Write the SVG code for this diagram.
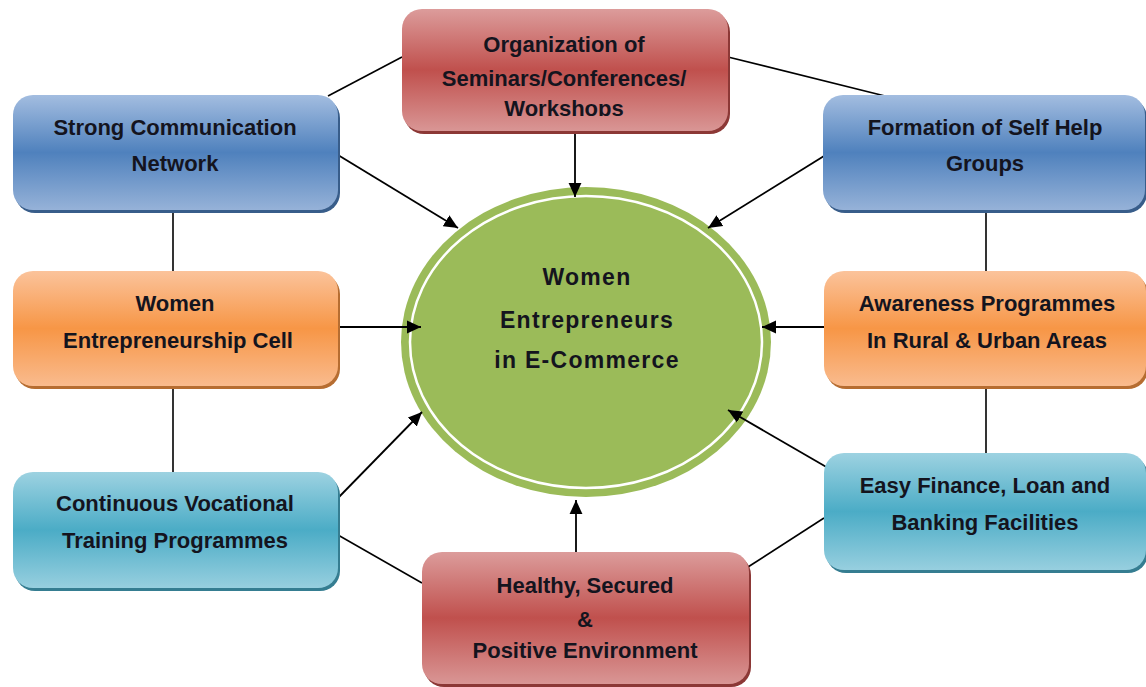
<svg xmlns="http://www.w3.org/2000/svg" width="1146" height="687" viewBox="0 0 1146 687">
<defs>
<linearGradient id="gBlue" x1="0" y1="0" x2="0" y2="1">
<stop offset="0" stop-color="#a3bde0"/><stop offset="0.5" stop-color="#4f81bd"/><stop offset="1" stop-color="#96b2d8"/>
</linearGradient>
<linearGradient id="gOrange" x1="0" y1="0" x2="0" y2="1">
<stop offset="0" stop-color="#fbc39b"/><stop offset="0.5" stop-color="#f79646"/><stop offset="1" stop-color="#f9bb8e"/>
</linearGradient>
<linearGradient id="gRed" x1="0" y1="0" x2="0" y2="1">
<stop offset="0" stop-color="#dc9c9b"/><stop offset="0.5" stop-color="#c0504d"/><stop offset="1" stop-color="#d99695"/>
</linearGradient>
<linearGradient id="gTeal" x1="0" y1="0" x2="0" y2="1">
<stop offset="0" stop-color="#9dd2e1"/><stop offset="0.5" stop-color="#4bacc6"/><stop offset="1" stop-color="#97cfdf"/>
</linearGradient>
<marker id="arr" viewBox="0 0 12 12" refX="12" refY="6" markerWidth="14" markerHeight="14" orient="auto" markerUnits="userSpaceOnUse">
<path d="M0,0.5 L12,6 L0,11.5 z" fill="#000"/>
</marker>
<clipPath id="clipTop"><rect x="402" y="9" width="326" height="107"/></clipPath>
</defs>
<style>
.lbl{font-family:"Liberation Sans",Arial,sans-serif;font-weight:bold;font-size:22px;fill:#14141e;text-anchor:middle;dominant-baseline:central}
.ctr{font-family:"Liberation Sans",Arial,sans-serif;font-weight:bold;font-size:23px;fill:#14141e;text-anchor:middle;dominant-baseline:central;letter-spacing:1.3px}
.ln{stroke:#000;stroke-width:1.6;fill:none}
.ar{stroke:#000;stroke-width:1.8;fill:none;marker-end:url(#arr)}
</style>
<rect width="1146" height="687" fill="#fff"/>

<g id="center">
<ellipse cx="586" cy="342" rx="185" ry="155" fill="#9bbb59"/>
<ellipse cx="586" cy="342" rx="176" ry="146" fill="none" stroke="#fff" stroke-width="2.5"/>
<text class="ctr" x="587" y="277">Women</text>
<text class="ctr" x="587" y="320">Entrepreneurs</text>
<text class="ctr" x="587" y="360">in E-Commerce</text>
</g>

<g id="connectors">
<line class="ln" x1="328" y1="96" x2="402" y2="57"/>
<line class="ln" x1="728" y1="57" x2="885" y2="96"/>
<line class="ln" x1="173" y1="210" x2="173" y2="271"/>
<line class="ln" x1="173" y1="386" x2="173" y2="472"/>
<line class="ln" x1="986" y1="210" x2="986" y2="271"/>
<line class="ln" x1="986" y1="386" x2="986" y2="453"/>
<line class="ln" x1="338" y1="535" x2="422" y2="583"/>
<line class="ln" x1="748" y1="567" x2="824" y2="518"/>
<line class="ar" x1="575" y1="133" x2="575" y2="197"/>
<line class="ar" x1="338" y1="155" x2="458" y2="228"/>
<line class="ar" x1="824" y1="156" x2="708" y2="228"/>
<line class="ar" x1="338" y1="327" x2="421" y2="327"/>
<line class="ar" x1="824" y1="327" x2="762" y2="327"/>
<line class="ar" x1="338" y1="498" x2="422" y2="412"/>
<line class="ar" x1="835" y1="472" x2="728" y2="410"/>
<line class="ar" x1="576" y1="552" x2="576" y2="500"/>
</g>

<g id="n-seminars">
<rect x="404" y="12" width="326" height="122" rx="20" fill="#8c3836"/>
<rect x="402" y="9" width="326" height="122" rx="20" fill="url(#gRed)"/>
<g clip-path="url(#clipTop)">
<text class="lbl" x="564" y="44">Organization of</text>
<text class="lbl" x="564" y="78">Seminars/Conferences/</text>
<text class="lbl" x="564" y="108">Workshops</text>
</g>
</g>

<g id="n-communication">
<rect x="15" y="98" width="325" height="115" rx="20" fill="#385d8a"/>
<rect x="13" y="95" width="325" height="115" rx="20" fill="url(#gBlue)"/>
<text class="lbl" x="175" y="127">Strong Communication</text>
<text class="lbl" x="175" y="163">Network</text>
</g>

<g id="n-selfhelp">
<rect x="825" y="98" width="322" height="115" rx="20" fill="#385d8a"/>
<rect x="823" y="95" width="322" height="115" rx="20" fill="url(#gBlue)"/>
<text class="lbl" x="985" y="127">Formation of Self Help</text>
<text class="lbl" x="985" y="163">Groups</text>
</g>

<g id="n-cell">
<rect x="15" y="274" width="325" height="115" rx="20" fill="#b66d31"/>
<rect x="13" y="271" width="325" height="115" rx="20" fill="url(#gOrange)"/>
<text class="lbl" x="175" y="303">Women</text>
<text class="lbl" x="178" y="340">Entrepreneurship Cell</text>
</g>

<g id="n-awareness">
<rect x="826" y="274" width="322" height="115" rx="20" fill="#b66d31"/>
<rect x="824" y="271" width="322" height="115" rx="20" fill="url(#gOrange)"/>
<text class="lbl" x="987" y="303">Awareness Programmes</text>
<text class="lbl" x="987" y="340">In Rural &amp; Urban Areas</text>
</g>

<g id="n-vocational">
<rect x="15" y="475" width="325" height="116" rx="20" fill="#357d91"/>
<rect x="13" y="472" width="325" height="116" rx="20" fill="url(#gTeal)"/>
<text class="lbl" x="175" y="503">Continuous Vocational</text>
<text class="lbl" x="175" y="540">Training Programmes</text>
</g>

<g id="n-finance">
<rect x="826" y="456" width="322" height="117" rx="20" fill="#357d91"/>
<rect x="824" y="453" width="322" height="117" rx="20" fill="url(#gTeal)"/>
<text class="lbl" x="985" y="485">Easy Finance, Loan and</text>
<text class="lbl" x="985" y="522">Banking Facilities</text>
</g>

<g id="n-environment">
<rect x="424" y="555" width="327" height="132" rx="20" fill="#8c3836"/>
<rect x="422" y="552" width="327" height="132" rx="20" fill="url(#gRed)"/>
<text class="lbl" x="585" y="585">Healthy, Secured</text>
<text class="lbl" x="585" y="619">&amp;</text>
<text class="lbl" x="585" y="650">Positive Environment</text>
</g>
</svg>
